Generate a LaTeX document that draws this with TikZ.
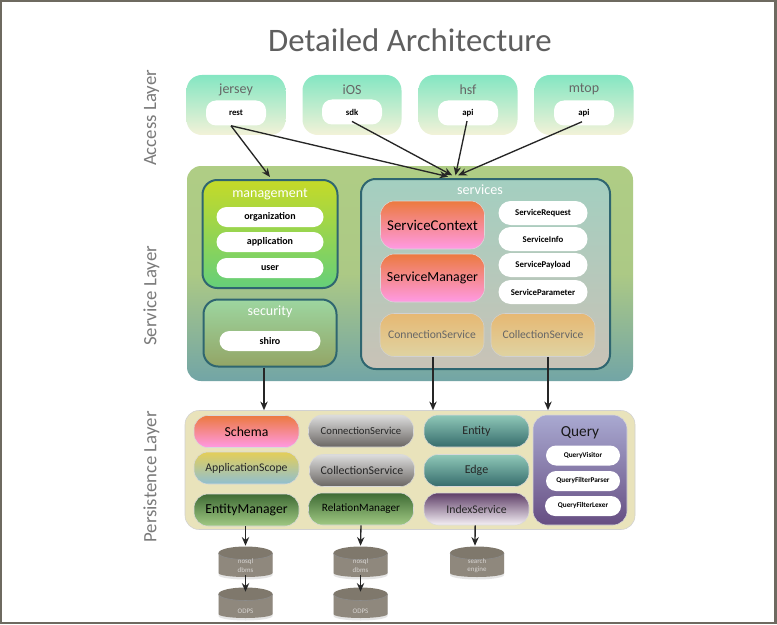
\documentclass[tikz,border=0pt]{standalone}
\usepackage{fontspec}
\setmainfont{Carlito}
\usetikzlibrary{arrows.meta}
\definecolor{framec}{HTML}{6E6A60}
\definecolor{titlec}{HTML}{5F5F5F}
\definecolor{layerc}{HTML}{7A7A7A}
\definecolor{edgec}{HTML}{2F6670}
\definecolor{dbc}{HTML}{8F887D}
\definecolor{dbtop}{HTML}{7F786C}
\definecolor{accessT}{HTML}{84E6C2}\definecolor{accessB}{HTML}{F3F2D8}
\definecolor{redT}{HTML}{EC7A3F}\definecolor{redB}{HTML}{FF9AE4}
\definecolor{sandT}{HTML}{E6B873}\definecolor{sandB}{HTML}{DFD3A2}
\definecolor{greyT}{HTML}{DDDDDD}\definecolor{greyB}{HTML}{6A6663}
\definecolor{dgT}{HTML}{3F6B35}\definecolor{dgB}{HTML}{A0C983}
\definecolor{tealT}{HTML}{8FC8B8}\definecolor{tealB}{HTML}{366C6C}
\definecolor{svcT}{HTML}{AFCD85}\definecolor{svcM}{HTML}{ACC985}\definecolor{svcB}{HTML}{72A5A6}
\definecolor{mgT}{HTML}{C5DA28}\definecolor{mgB}{HTML}{65CF7A}
\definecolor{seT}{HTML}{9DD6A0}\definecolor{seB}{HTML}{93A566}
\definecolor{srT}{HTML}{A3CFC0}\definecolor{srB}{HTML}{C9C2B6}
\definecolor{persc}{HTML}{E9E3BB}
\definecolor{asT}{HTML}{E4CE58}\definecolor{asB}{HTML}{90BFD0}
\definecolor{isT}{HTML}{5F3F68}\definecolor{isB}{HTML}{F5F0F5}
\definecolor{qT}{HTML}{A9A9D1}\definecolor{qB}{HTML}{664E82}
\tikzset{x=0.75pt,y=-0.75pt,
 gbox/.style={rounded corners=#1,align=center,inner sep=0pt},
 gbox/.default=10.5pt,
 pill/.style={gbox=7.5pt,fill=white,text=black,font=\fontsize{6.6}{8}\selectfont\bfseries},
 bigpill/.style={pill,minimum height=20*0.75pt,font=\fontsize{7.5}{9}\selectfont\bfseries},
 svcpill/.style={pill,minimum width=89*0.75pt,minimum height=24*0.75pt,rounded corners=9pt},
 qpill/.style={pill,minimum height=20*0.75pt,font=\fontsize{5.45}{7}\selectfont\bfseries},
 redbox/.style={gbox=10.5pt,draw=black!15,top color=redT,bottom color=redB,text=black},
 sandbox/.style={gbox=10.5pt,draw=black!18,top color=sandT,bottom color=sandB,text=black!60,font=\fontsize{8.7}{10}\selectfont},
 greybox/.style={gbox=10.5pt,draw=black!15,top color=greyT,bottom color=greyB,text=black!85,font=\fontsize{8}{10}\selectfont},
 dgbox/.style={gbox=10.5pt,draw=black!15,top color=dgT,bottom color=dgB,text=black},
 tealbox/.style={gbox=10.5pt,draw=black!15,top color=tealT,bottom color=tealB,text=black!85},
 grp/.style={gbox=11pt,line width=1.5pt,draw=edgec},
 flow/.style={-{Stealth[length=6.5pt,width=5.5pt]},line width=1pt,black!85},
 layerlabel/.style={text=layerc,rotate=90,font=\fontsize{14.1}{17}\selectfont},
 size11/.style={minimum width=105*0.75pt,minimum height=32*0.75pt},
 drumlabel/.style={inner sep=0pt,align=center,text=white!65!dbc,font=\fontsize{5.2}{6.2}\selectfont},
}
\newcommand{\drum}[5]{% name, cx, top y, label, label offset
 \fill[black!20,opacity=.5] (#2-27,#3+8) -- (#2-27,#3+29) arc[x radius=27,y radius=4.5,start angle=180,end angle=0] -- (#2+27,#3+8) -- cycle;
 \fill[dbc] (#2-27,#3+7) -- (#2-27,#3+27) arc[x radius=27,y radius=4,start angle=180,end angle=0] -- (#2+27,#3+7) -- cycle;
 \fill[dbtop] (#2,#3+7) ellipse[x radius=27,y radius=6.5];
 \draw[black!45,line width=.4pt] (#2-27,#3+7) arc[x radius=27,y radius=6.5,start angle=180,end angle=0];
 \node[inner sep=0pt,minimum height=31*0.75pt,minimum width=54*0.75pt] (#1) at (#2,#3+15.5) {};
 \node[drumlabel] (#1l) at (#2,#3+#5) {#4};
}
\newcommand{\acc}[5]{%
 \path[rounded corners=11.5pt,top color=accessT,bottom color=accessB] (#2-49.5,75) rectangle (#2+49.5,135);
 \node[text=black!60,font=\fontsize{10.5}{12}\selectfont] (#1t) at (#2,89.5) {#3};
 \node[pill,minimum width=60*0.75pt,minimum height=25*0.75pt] (#1) at (#2,#5) {#4};}
\begin{document}
\begin{tikzpicture}
\useasboundingbox (0,0) rectangle (777,624);
\fill[white] (0,0) rectangle (777,624);
\draw[framec,line width=1.8pt] (1,1) rectangle (775.5,622.8);
\node[text=titlec,font=\fontsize{24.6}{30}\selectfont] (title) at (410,40) {Detailed Architecture};
\node[layerlabel] (l1) at (151.5,118) {Access Layer};
\node[layerlabel] (l2) at (151.5,296) {Service Layer};
\node[layerlabel] (l3) at (151.5,477) {Persistence Layer};
% access
\acc{rest}{236}{jersey}{rest}{113}
\acc{sdk}{352}{iOS}{sdk}{112}
\acc{hsfapi}{468}{hsf}{api}{113}
\acc{mtopapi}{584}{mtop}{api}{113}
% service layer
\node[gbox=10.5pt,top color=svcT,bottom color=svcB,middle color=svcM,minimum width=446*0.75pt,minimum height=215*0.75pt] (svc) at (410,273.5) {};
% management
\node[grp,top color=mgT,bottom color=mgB,minimum width=135*0.75pt,minimum height=108*0.75pt] (management) at (270,234) {};
\node[text=white,font=\fontsize{10.5}{12}\selectfont] (mgt) at (270,194.5) {management};
\node[bigpill,minimum width=107*0.75pt] (org) at (270,217) {organization};
\node[bigpill,minimum width=107*0.75pt] (app) at (270,242) {application};
\node[bigpill,minimum width=107*0.75pt] (usr) at (270,268) {user};
% security
\node[grp,top color=seT,bottom color=seB,minimum width=133*0.75pt,minimum height=67*0.75pt] (security) at (270,333) {};
\node[text=white,font=\fontsize{10.5}{12}\selectfont] (set) at (270,312) {security};
\node[bigpill,minimum width=101*0.75pt] (shiro) at (270,341) {shiro};
% services
\node[grp,top color=srT,bottom color=srB,minimum width=249*0.75pt,minimum height=190*0.75pt] (services) at (485.5,274) {};
\node[text=white,font=\fontsize{10.6}{12}\selectfont] (svt) at (480,190) {services};
\node[redbox,minimum width=104*0.75pt,minimum height=48*0.75pt,font=\fontsize{11.2}{13}\selectfont] (sc) at (432.5,225) {ServiceContext};
\node[redbox,minimum width=104*0.75pt,minimum height=48*0.75pt,font=\fontsize{10.4}{13}\selectfont] (sm) at (432.5,278) {ServiceManager};
\node[svcpill] (sr) at (543,213) {ServiceRequest};
\node[svcpill] (si) at (543,239) {ServiceInfo};
\node[svcpill] (sp) at (543,265) {ServicePayload};
\node[svcpill] (spa) at (543,292) {ServiceParameter};
\node[sandbox,minimum width=104*0.75pt,minimum height=43*0.75pt] (cs) at (432,335) {ConnectionService};
\node[sandbox,minimum width=104*0.75pt,minimum height=43*0.75pt] (cols) at (543,335) {CollectionService};
% persistence
\node[gbox=10.5pt,fill=persc,draw=black!18,minimum width=450*0.75pt,minimum height=119*0.75pt] (pers) at (410,470) {};
\node[redbox,size11,font=\fontsize{10.3}{13}\selectfont] (schema) at (246.5,431.5) {Schema};
\node[gbox,draw=black!15,top color=asT,bottom color=asB,text=black!85,size11,font=\fontsize{8.8}{11}\selectfont] (as) at (246.5,468) {ApplicationScope};
\node[dgbox,size11,font=\fontsize{10.3}{13}\selectfont] (em) at (246.5,510) {EntityManager};
\node[greybox,size11] (pcs) at (361,431) {ConnectionService};
\node[greybox,size11,font=\fontsize{8.9}{11}\selectfont] (pcol) at (362,470.5) {CollectionService};
\node[dgbox,size11,font=\fontsize{8.4}{10}\selectfont] (rm) at (361,509) {RelationManager};
\node[tealbox,size11,font=\fontsize{9}{11}\selectfont] (ent) at (476.5,431) {Entity};
\node[tealbox,size11,font=\fontsize{9}{11}\selectfont] (edge) at (476.5,470.5) {Edge};
\node[gbox,draw=black!15,top color=isT,bottom color=isB,text=black!85,size11,font=\fontsize{8.8}{11}\selectfont] (is) at (476.5,509) {IndexService};
\node[gbox,draw=black!15,top color=qT,bottom color=qB,minimum width=94*0.75pt,minimum height=110*0.75pt] (query) at (580,470) {};
\node[text=black!90,font=\fontsize{11.5}{13}\selectfont] (qt) at (580,432.5) {Query};
\node[qpill,minimum width=74*0.75pt] (qv) at (583,455.5) {QueryVisitor};
\node[qpill,minimum width=74*0.75pt] (qfp) at (583,481) {QueryFilterParser};
\node[qpill,minimum width=76*0.75pt] (qfl) at (583,506) {QueryFilterLexer};
% drums
\drum{d1}{245.5}{546}{nosql\\dbms}{19.5}
\drum{d2}{245.5}{587}{ODPS}{24}
\drum{d3}{360.5}{546}{nosql\\dbms}{19.5}
\drum{d4}{360.5}{587}{ODPS}{24}
\drum{d5}{477}{546}{search\\engine}{20}
% connectors
\draw[flow] ([xshift=-3.75pt]rest.south) -- ([yshift=1.5pt]management.north);
\draw[flow] ([xshift=-3.75pt]rest.south) -- ([xshift=-28pt,yshift=1pt]services.north);
\draw[flow] ([yshift=2.5pt]sdk.south) -- ([xshift=-25pt,yshift=2pt]services.north);
\draw[flow] ([xshift=-0.75pt,yshift=3.5pt]hsfapi.south) -- ([xshift=-22.5pt,yshift=2pt]services.north);
\draw[flow] ([xshift=-1.5pt,yshift=3pt]mtopapi.south) -- ([xshift=-20.5pt,yshift=2pt]services.north);
\draw[flow] ([xshift=-4.5pt]security.south) -- ([xshift=-109.5pt]pers.north);
\draw[flow] ([xshift=0.75pt]cs.south) -- ([xshift=17.25pt]pers.north);
\draw[flow] ([xshift=3.75pt]cols.south) -- ([xshift=103.5pt]pers.north);
\draw[flow] ([xshift=-0.75pt]em.south) -- (d1.north);
\draw[flow] (rm.south) -- (d3.north);
\draw[flow] ([xshift=-1pt]is.south) -- ([xshift=-1.5pt]d5.north);
\draw[flow] ([yshift=1.5pt]d1.south) -- ([yshift=-3.75pt]d2.north);
\draw[flow] ([yshift=1.5pt]d3.south) -- ([yshift=-3.75pt]d4.north);
\end{tikzpicture}
\end{document}
